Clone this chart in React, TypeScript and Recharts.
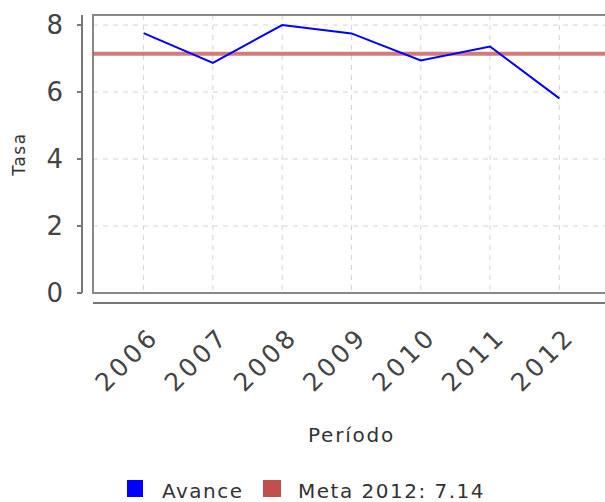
import React from 'react';
import {
  LineChart,
  Line,
  XAxis,
  YAxis,
  CartesianGrid,
  ReferenceLine,
  ReferenceArea,
  Legend,
} from 'recharts';

const years = ['2006', '2007', '2008', '2009', '2010', '2011', '2012'];
const avance = [7.76, 6.87, 8.0, 7.75, 6.94, 7.36, 5.81];
const meta = 7.14;
const yTicks = [0, 2, 4, 6, 8];

const data = years.map((year, i) => ({ idx: i, year, avance: avance[i] }));

const font = '"DejaVu Sans", sans-serif';

const YTick = ({ x, y, payload }: any) => (
  <g>
    <line x1={x - 16} x2={x - 11} y1={y} y2={y} stroke="#777" strokeWidth={2} />
    <text x={x - 30} y={y} dy={9} textAnchor="end" fontFamily={font} fontSize={26} fill="#444">
      {payload.value}
    </text>
  </g>
);

const XTick = ({ x, y, payload }: any) => {
  const ax = x + 17;
  const ay = y + 45;
  return (
    <text
      x={ax}
      y={ay}
      transform={`rotate(-45, ${ax}, ${ay})`}
      textAnchor="end"
      fontFamily={font}
      fontSize={25}
      letterSpacing={3.5}
      fill="#444"
    >
      {years[payload.value]}
    </text>
  );
};

const YLabel = ({ viewBox }: any) => (
  <text
    x={25}
    y={viewBox.y + viewBox.height / 2}
    transform={`rotate(-90, 25, ${viewBox.y + viewBox.height / 2})`}
    textAnchor="middle"
    fontFamily={font}
    fontSize={17}
    letterSpacing={1.5}
    fill="#333"
  >
    Tasa
  </text>
);

const XLabel = ({ viewBox }: any) => (
  <text
    x={viewBox.x + viewBox.width / 2 - 1}
    y={viewBox.y + 149}
    textAnchor="middle"
    fontFamily={font}
    fontSize={20}
    letterSpacing={1.8}
    fill="#333"
  >
    Período
  </text>
);

const LegendContent = () => (
  <div
    style={{
      position: 'relative',
      height: 22,
      fontFamily: font,
      fontSize: 20,
      lineHeight: '20px',
      color: '#333',
      letterSpacing: 1.5,
    }}
  >
    <span style={{ position: 'absolute', left: 127, top: 0, width: 16, height: 17, background: '#0000ff' }} />
    <span style={{ position: 'absolute', left: 162, top: 1, whiteSpace: 'nowrap' }}>Avance</span>
    <span style={{ position: 'absolute', left: 263, top: 0, width: 18, height: 17, background: '#c0504d' }} />
    <span style={{ position: 'absolute', left: 298, top: 1, whiteSpace: 'nowrap' }}>Meta 2012: 7.14</span>
  </div>
);

export default function App() {
  return (
    <div
      style={{
        position: 'absolute',
        left: 0,
        top: 0,
        width: 605,
        height: 502,
        overflow: 'hidden',
        background: '#fff',
      }}
    >
      <LineChart width={612} height={502} data={data} margin={{ top: 15, right: 0, left: 0, bottom: 0 }}>
        <CartesianGrid stroke="#d4d4d4" strokeDasharray="5 5" />
        <XAxis
          dataKey="idx"
          type="number"
          domain={[-0.73, 6.76]}
          ticks={[0, 1, 2, 3, 4, 5, 6]}
          allowDataOverflow
          height={187}
          tickSize={0}
          tickMargin={0}
          tickLine={false}
          tick={<XTick />}
          axisLine={{ stroke: '#777', strokeWidth: 2, transform: 'translate(0,10)' }}
          label={<XLabel />}
        />
        <YAxis
          domain={[0, 8.3]}
          ticks={yTicks}
          allowDataOverflow
          width={93}
          tickSize={0}
          tickMargin={0}
          tickLine={false}
          tick={<YTick />}
          axisLine={{ stroke: '#777', strokeWidth: 2, transform: 'translate(-11,0)' }}
          label={<YLabel />}
        />
        <ReferenceArea y1={0} y2={8.3} fill="none" stroke="#888" strokeWidth={2} />
        <ReferenceLine y={meta} stroke="#c0504d" strokeWidth={4} strokeOpacity={0.75} />
        <Line
          type="linear"
          dataKey="avance"
          stroke="#0000ff"
          strokeWidth={2}
          dot={false}
          isAnimationActive={false}
        />
        <Legend verticalAlign="bottom" content={<LegendContent />} />
      </LineChart>
    </div>
  );
}
